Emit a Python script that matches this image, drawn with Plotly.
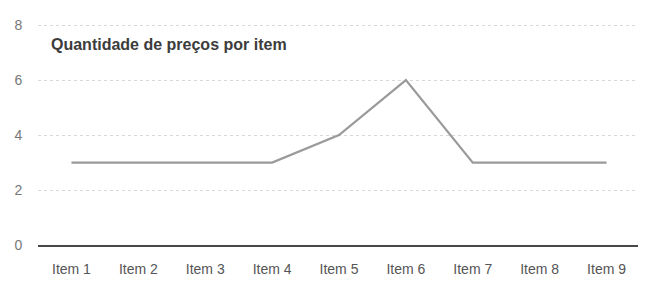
import plotly.graph_objects as go

categories = ["Item 1", "Item 2", "Item 3", "Item 4", "Item 5", "Item 6", "Item 7", "Item 8", "Item 9"]
values = [3, 3, 3, 3, 4, 6, 3, 3, 3]
y_ticks = [0, 2, 4, 6, 8]
title_text = "Quantidade de preços por item"

fig = go.Figure()
fig.add_trace(go.Scatter(
    x=categories, y=values, mode="lines",
    line=dict(color="#9a9a9a", width=2.2),
    hoverinfo="skip",
))

fig.update_layout(
    width=638, height=277,
    margin=dict(l=30, r=6, t=15, b=40),
    paper_bgcolor="white", plot_bgcolor="white",
    showlegend=False,
    font=dict(family="Liberation Sans, Arial, sans-serif", size=14, color="#555555"),
    annotations=[dict(
        text="<b>" + title_text + "</b>",
        xref="paper", yref="paper", x=0.018, y=0.905,
        xanchor="left", yanchor="middle", showarrow=False,
        font=dict(family="Liberation Sans, Arial, sans-serif", size=16, color="#3c3c3c"),
    )],
)

fig.update_xaxes(
    type="category", range=[-0.5, 8.5],
    showgrid=False, showline=True, linecolor="#484848", linewidth=2,
    ticks="outside", ticklen=10, tickcolor="rgba(0,0,0,0)",
    tickfont=dict(size=14, color="#555555"),
)
fig.update_yaxes(
    range=[0, 8.08], tickvals=y_ticks,
    showgrid=True, gridcolor="#d8d8d8", gridwidth=1, griddash="dot",
    zeroline=False, showline=False,
    ticks="outside", ticklen=12, tickcolor="rgba(0,0,0,0)",
    tickfont=dict(size=14, color="#777777"),
)

fig.write_html("out.html")
